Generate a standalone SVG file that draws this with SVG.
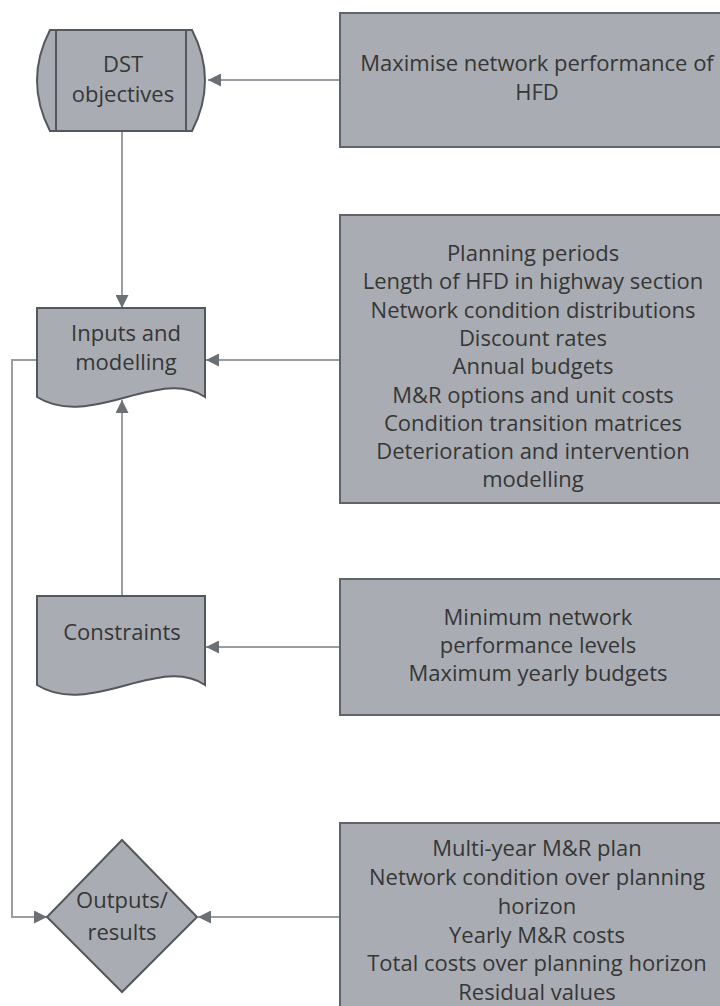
<svg xmlns="http://www.w3.org/2000/svg" width="720" height="1006" viewBox="0 0 720 1006">
<defs>
<marker id="ah" viewBox="0 0 12 12" refX="12" refY="6" markerWidth="13" markerHeight="13" markerUnits="userSpaceOnUse" orient="auto">
<path d="M0,0 L12,6 L0,12 Z" fill="#6b7074"/>
</marker>
<style>
.shape{fill:#a9adb3;stroke:#53585c;stroke-width:2}
.box{fill:#a9adb3;stroke:#5f6468;stroke-width:2}
.conn{fill:none;stroke:#9a9ea2;stroke-width:2}
text{font-family:"Open Sans","Noto Sans","DejaVu Sans",sans-serif;font-size:22px;fill:#363636;text-anchor:middle}
</style>
</defs>
<rect width="720" height="1006" fill="#ffffff"/>

<g id="connectors">
<path class="conn" d="M340,80 H208" marker-end="url(#ah)"/>
<path class="conn" d="M122,131 V308" marker-end="url(#ah)"/>
<path class="conn" d="M340,360 H206" marker-end="url(#ah)"/>
<path class="conn" d="M122,596 V400" marker-end="url(#ah)"/>
<path class="conn" d="M340,647 H206" marker-end="url(#ah)"/>
<path class="conn" d="M37,360 H12 V917 H47" marker-end="url(#ah)"/>
<path class="conn" d="M340,917 H198" marker-end="url(#ah)"/>
</g>

<g id="dst-objectives">
<path class="shape" d="M50,30 H192 Q218,80.5 192,131 H50 Q24,80.5 50,30 Z"/>
<line x1="56" y1="30" x2="56" y2="131" stroke="#53585c" stroke-width="2"/>
<line x1="186" y1="30" x2="186" y2="131" stroke="#53585c" stroke-width="2"/>
<text x="123" y="72">DST</text>
<text x="123" y="102">objectives</text>
</g>

<g id="objective-box">
<rect class="box" x="340" y="13" width="392" height="134"/>
<text x="537" y="71">Maximise network performance of</text>
<text x="537" y="100">HFD</text>
</g>

<g id="inputs-modelling">
<path class="shape" d="M37,308 H205 V397 C160,366 90,430 37,397 Z"/>
<text x="126" y="341">Inputs and</text>
<text x="126" y="370">modelling</text>
</g>

<g id="inputs-box">
<rect class="box" x="340" y="215" width="392" height="288"/>
<text x="533" y="261">Planning periods</text>
<text x="533" y="289.3">Length of HFD in highway section</text>
<text x="533" y="317.6">Network condition distributions</text>
<text x="533" y="345.9">Discount rates</text>
<text x="533" y="374.2">Annual budgets</text>
<text x="533" y="402.5">M&amp;R options and unit costs</text>
<text x="533" y="430.8">Condition transition matrices</text>
<text x="533" y="459.1">Deterioration and intervention</text>
<text x="533" y="487.4">modelling</text>
</g>

<g id="constraints">
<path class="shape" d="M37,596 H205 V685 C160,654 90,718 37,685 Z"/>
<text x="122" y="640">Constraints</text>
</g>

<g id="constraints-box">
<rect class="box" x="340" y="579" width="392" height="136"/>
<text x="538" y="625">Minimum network</text>
<text x="538" y="653">performance levels</text>
<text x="538" y="681">Maximum yearly budgets</text>
</g>

<g id="outputs-results">
<path class="shape" d="M122,840 L197,917 L122,992 L47,917 Z"/>
<text x="122" y="908">Outputs/</text>
<text x="122" y="940">results</text>
</g>

<g id="outputs-box">
<rect class="box" x="340" y="823" width="392" height="200"/>
<text x="537" y="856">Multi-year M&amp;R plan</text>
<text x="537" y="885">Network condition over planning</text>
<text x="537" y="914">horizon</text>
<text x="537" y="943">Yearly M&amp;R costs</text>
<text x="537" y="971">Total costs over planning horizon</text>
<text x="537" y="1000">Residual values</text>
</g>
</svg>
